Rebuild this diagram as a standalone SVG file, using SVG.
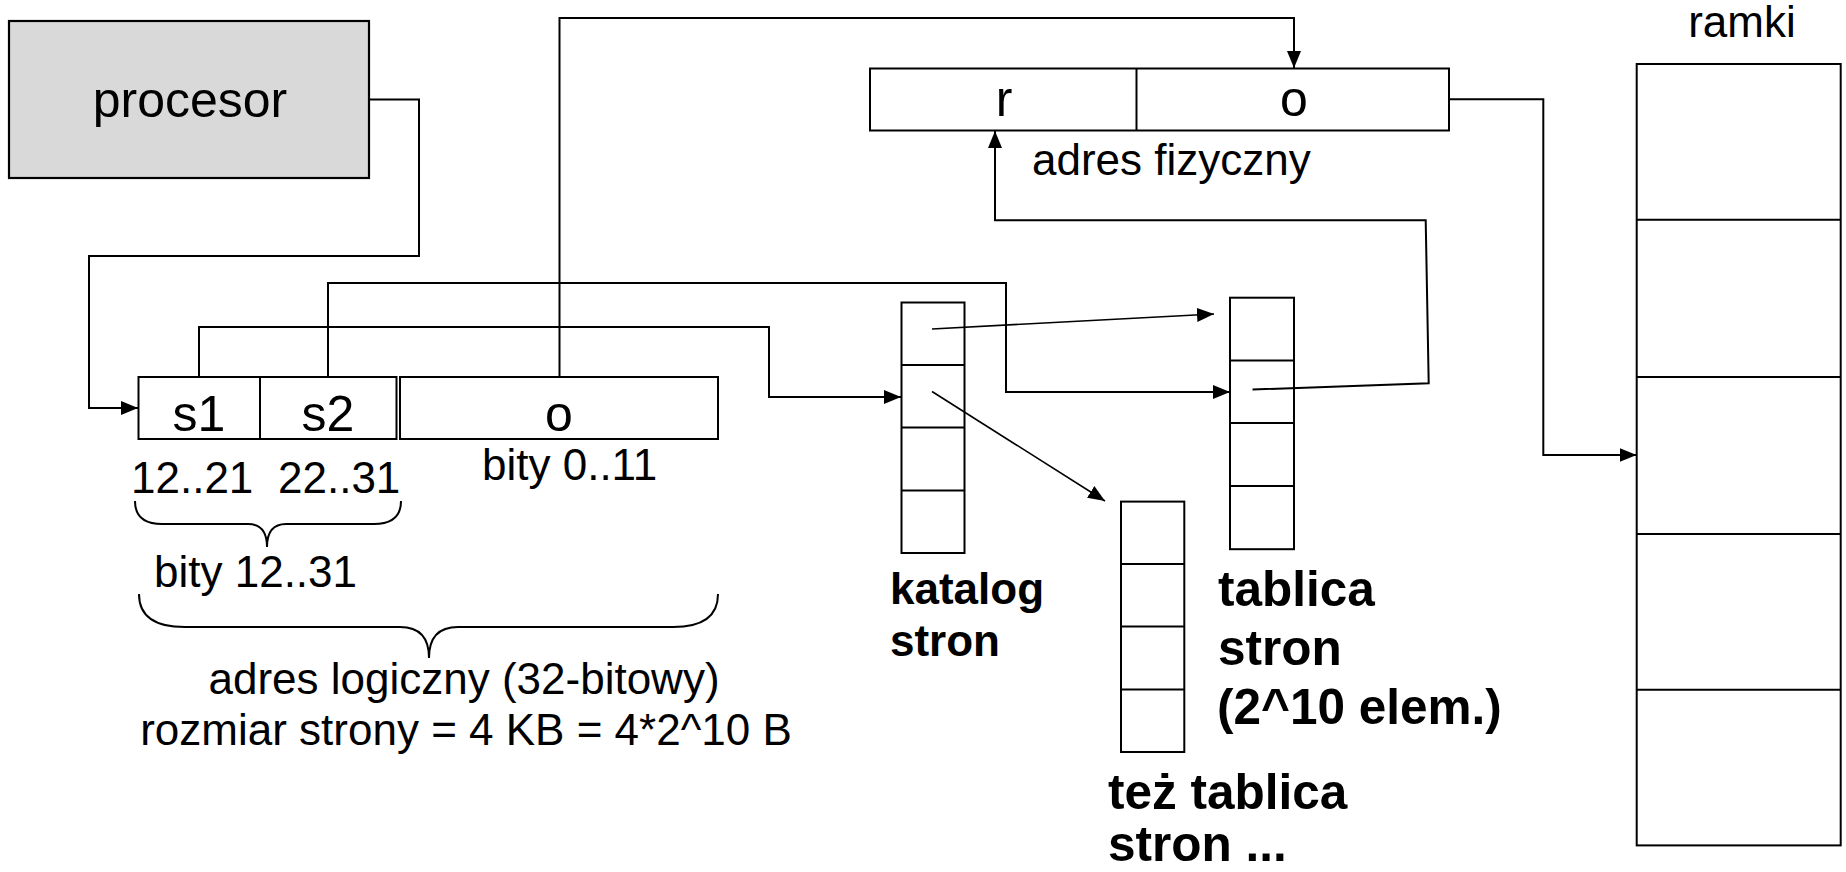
<svg xmlns="http://www.w3.org/2000/svg" width="1846" height="872" viewBox="0 0 1846 872">
<style>
.box{fill:none;stroke:#000;stroke-width:2}
.ln{fill:none;stroke:#000;stroke-width:2}
.thin{fill:none;stroke:#000;stroke-width:1.6}
.t{font-family:"Liberation Sans",Arial,sans-serif;fill:#000}
.r44{font-size:44px}
.r50{font-size:50px}
.b44{font-size:44px;font-weight:bold}
.b49{font-size:49.5px;font-weight:bold}
</style>
<defs>
<marker id="ah" markerUnits="userSpaceOnUse" markerWidth="17" markerHeight="14" refX="17" refY="7" orient="auto">
<path d="M0,0 L17,7 L0,14 z" fill="#000"/>
</marker>
</defs>
<rect width="1846" height="872" fill="#fff"/>

<g id="procesor">
<rect x="9" y="21" width="360" height="157" fill="#d9d9d9" stroke="#000" stroke-width="2.2"/>
<text class="t r50" x="190" y="117" text-anchor="middle">procesor</text>
</g>

<g id="adres-logiczny">
<rect class="box" x="138.5" y="377" width="258" height="62"/>
<line class="ln" x1="260" y1="377" x2="260" y2="439"/>
<rect class="box" x="400" y="377" width="318" height="62"/>
<text class="t r50" x="199" y="431" text-anchor="middle">s1</text>
<text class="t r50" x="328" y="431" text-anchor="middle">s2</text>
<text class="t r50" x="559" y="431" text-anchor="middle">o</text>
<text class="t r44" x="131" y="493">12..21</text>
<text class="t r44" x="278" y="493">22..31</text>
<text class="t r44" x="482" y="480">bity 0..11</text>
<path class="ln" d="M135,501 Q135,524 162,524 L248,524 Q267,524 267,547 Q267,524 286,524 L374,524 Q401,524 401,501"/>
<text class="t r44" x="154" y="587">bity 12..31</text>
<path class="ln" d="M139,594 Q139,627 185,627 L400,627 Q429,627 429,658 Q429,627 458,627 L673,627 Q718,627 718,594"/>
<text class="t r44" x="464" y="694" text-anchor="middle">adres logiczny (32-bitowy)</text>
<text class="t r44" x="466" y="745" text-anchor="middle">rozmiar strony = 4 KB = 4*2^10 B</text>
</g>

<g id="adres-fizyczny">
<rect class="box" x="870" y="68.5" width="579" height="62"/>
<line class="ln" x1="1136.5" y1="68.5" x2="1136.5" y2="130.5"/>
<text class="t r50" x="1004" y="116" text-anchor="middle">r</text>
<text class="t r50" x="1294" y="116" text-anchor="middle">o</text>
<text class="t r44" x="1032" y="175">adres fizyczny</text>
</g>

<g id="katalog">
<rect class="box" x="901.5" y="302.5" width="63" height="250.5"/>
<line class="ln" x1="901.5" y1="365" x2="964.5" y2="365"/>
<line class="ln" x1="901.5" y1="427.6" x2="964.5" y2="427.6"/>
<line class="ln" x1="901.5" y1="490.5" x2="964.5" y2="490.5"/>
<text class="t b44" x="890" y="604">katalog</text>
<text class="t b44" x="890" y="656">stron</text>
</g>

<g id="tablica">
<rect class="box" x="1230" y="297.7" width="64" height="251.5"/>
<line class="ln" x1="1230" y1="360.4" x2="1294" y2="360.4"/>
<line class="ln" x1="1230" y1="423" x2="1294" y2="423"/>
<line class="ln" x1="1230" y1="486" x2="1294" y2="486"/>
<text class="t b49" x="1218" y="606">tablica</text>
<text class="t b49" x="1218" y="665">stron</text>
<text class="t b49" x="1217" y="724">(2^10 elem.)</text>
</g>

<g id="tez-tablica">
<rect class="box" x="1121" y="501.6" width="63.3" height="250.4"/>
<line class="ln" x1="1121" y1="564" x2="1184.3" y2="564"/>
<line class="ln" x1="1121" y1="626.6" x2="1184.3" y2="626.6"/>
<line class="ln" x1="1121" y1="689.6" x2="1184.3" y2="689.6"/>
<text class="t b49" x="1108" y="809">też tablica</text>
<text class="t b49" x="1108" y="861">stron ...</text>
</g>

<g id="ramki">
<text class="t r44" x="1742" y="37" text-anchor="middle">ramki</text>
<rect class="box" x="1636.7" y="64" width="204" height="781.4"/>
<line class="ln" x1="1636.7" y1="219.7" x2="1840.7" y2="219.7"/>
<line class="ln" x1="1636.7" y1="377" x2="1840.7" y2="377"/>
<line class="ln" x1="1636.7" y1="534" x2="1840.7" y2="534"/>
<line class="ln" x1="1636.7" y1="689.7" x2="1840.7" y2="689.7"/>
</g>

<g id="connectors">
<polyline class="ln" points="370,99.5 419,99.5 419,256 89,256 89,408 138,408" marker-end="url(#ah)"/>
<polyline class="ln" points="199,377 199,327 769,327 769,397 901,397" marker-end="url(#ah)"/>
<polyline class="ln" points="328,377 328,283 1006,283 1006,392 1230,392" marker-end="url(#ah)"/>
<polyline class="ln" points="559.5,377 559.5,18 1294,18 1294,68" marker-end="url(#ah)"/>
<line class="thin" x1="932" y1="329" x2="1214" y2="314" marker-end="url(#ah)"/>
<line class="thin" x1="932" y1="391.5" x2="1105" y2="501" marker-end="url(#ah)"/>
<polyline class="ln" points="1252.5,389.5 1428.7,383.3 1425.7,220.3 995,220.3 995,131" marker-end="url(#ah)"/>
<polyline class="ln" points="1449,99.3 1543.3,99.3 1543.3,455 1636.5,455" marker-end="url(#ah)"/>
</g>
</svg>
